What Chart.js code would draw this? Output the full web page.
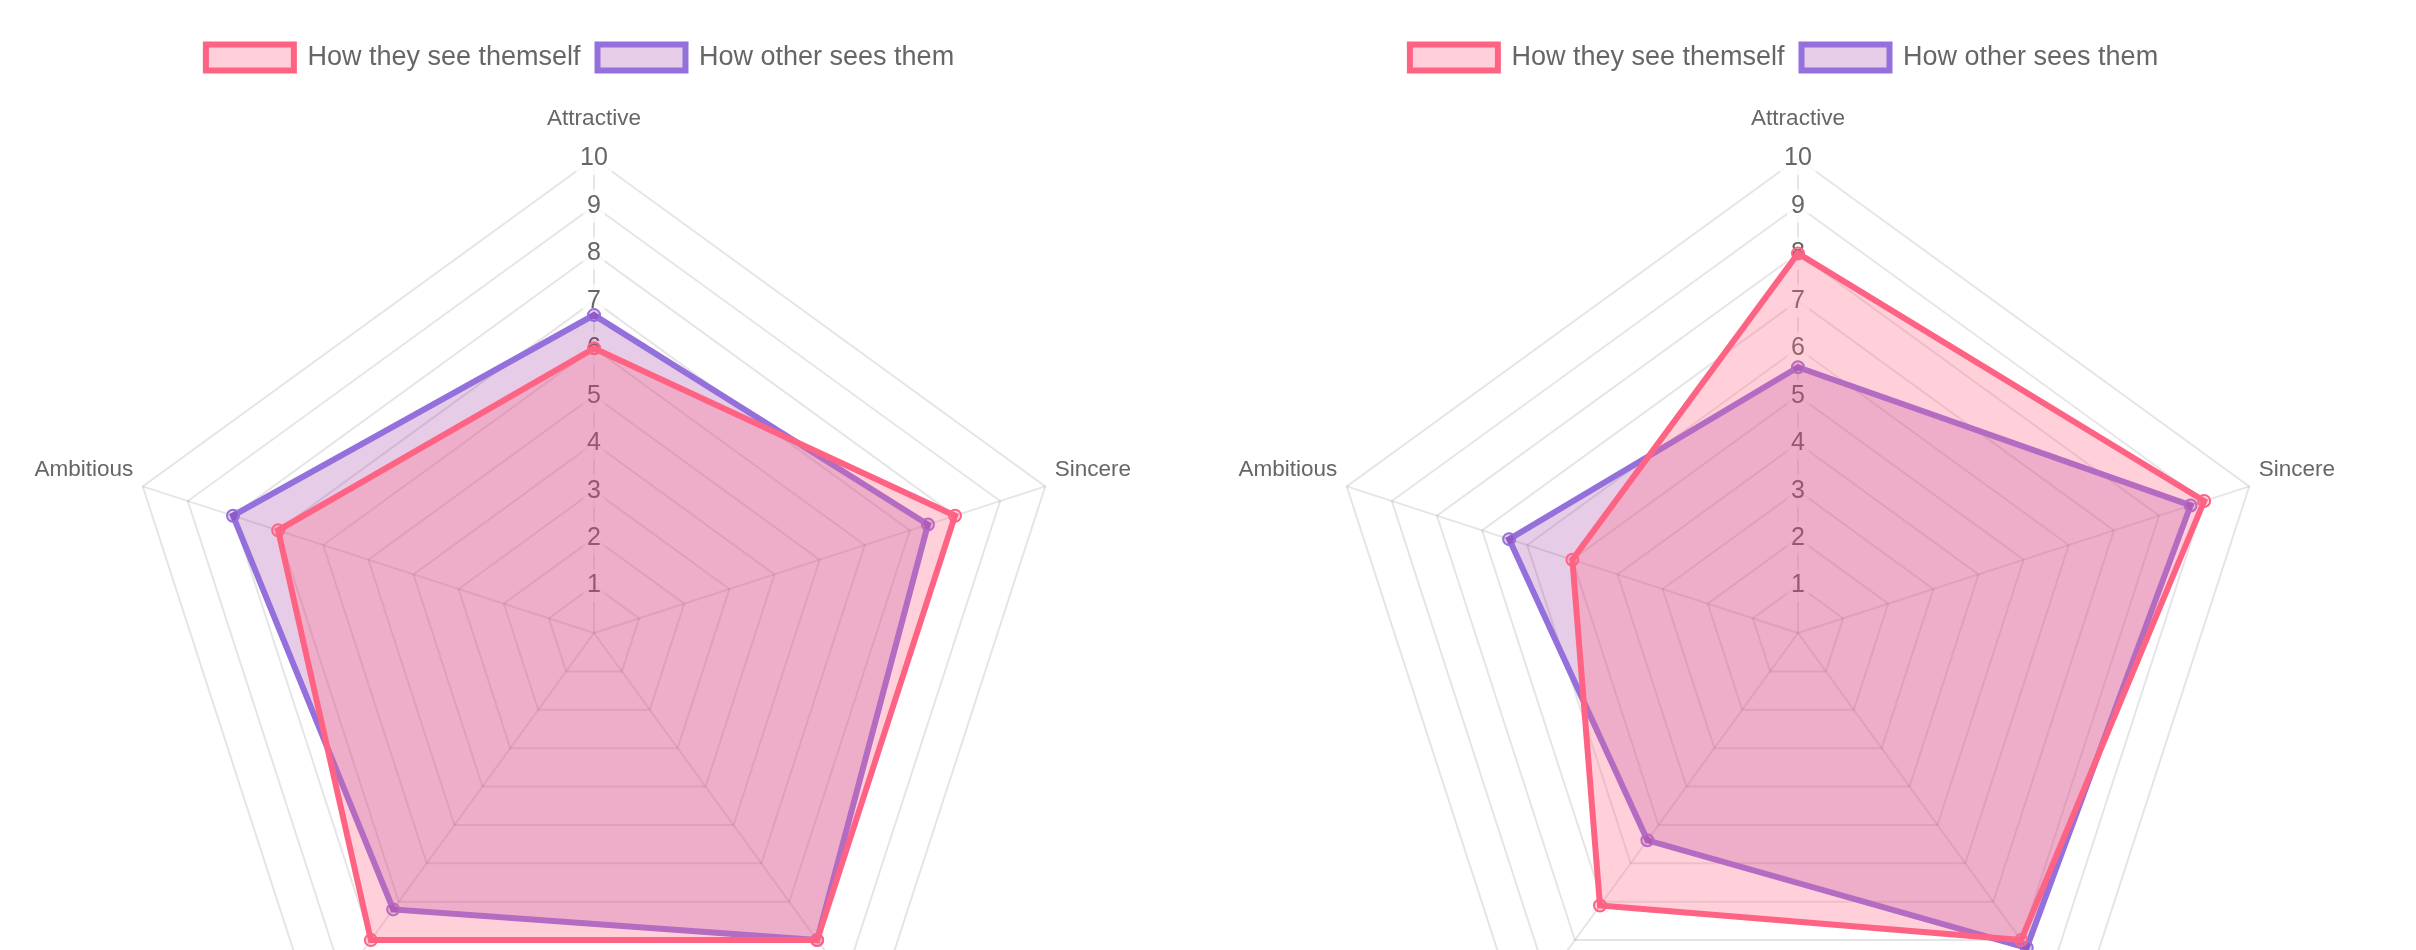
<!DOCTYPE html>
<html>
<head>
<meta charset="utf-8">
<script src="https://cdn.jsdelivr.net/npm/chart.js@4.4.1/dist/chart.umd.min.js"></script>
<style>
  html, body { margin: 0; padding: 0; background: #fff; overflow: hidden; }
  .box { position: absolute; top: 0; width: 1160px; height: 1160px; }
  #b1 { left: 0; }
  #b2 { left: 1204px; }
</style>
</head>
<body>
<div class="box" id="b1"><canvas id="c1"></canvas></div>
<div class="box" id="b2"><canvas id="c2"></canvas></div>
<script>
const categories = ["Attractive", "Sincere", "Intelligent", "Fun", "Ambitious"];
const seriesNames = ["How they see themself", "How other sees them"];
const chart1Self = [6, 8, 8, 8, 7];
const chart1Others = [6.7, 7.4, 8, 7.2, 8];
const chart2Self = [8, 9, 8, 7.1, 5];
const chart2Others = [5.6, 8.7, 8.2, 5.4, 6.4];
const scaleMin = 0;
const scaleMax = 10;

const FONT = "'Helvetica Neue', Helvetica, Arial, 'Liberation Sans', sans-serif";
Chart.defaults.font.family = FONT;
Chart.defaults.color = '#666';

const pink = 'rgb(255, 99, 132)';
const pinkFill = 'rgba(255, 99, 132, 0.3)';
const purple = 'rgb(147, 112, 219)';
const purpleFill = 'rgba(128, 0, 128, 0.2)';

// extra space between the legend and the radar, and a small horizontal nudge of the legend
const legendTweak = {
  id: 'legendTweak',
  beforeInit(chart) {
    const legend = chart.legend;
    if (!legend) return;
    const origFit = legend.fit;
    legend.fit = function () {
      origFit.call(this);
      this.height += 6;
    };
    const origDraw = legend.draw;
    legend.draw = function (area) {
      this.ctx.save();
      this.ctx.translate(-4, 0);
      origDraw.call(this, area);
      this.ctx.restore();
    };
  }
};

function makeChart(id, selfVals, otherVals) {
  return new Chart(document.getElementById(id), {
    type: 'radar',
    plugins: [legendTweak],
    data: {
      labels: categories,
      datasets: [
        {
          label: seriesNames[0],
          data: selfVals,
          borderColor: pink,
          backgroundColor: pinkFill,
          pointBackgroundColor: pinkFill,
          pointBorderColor: pink,
          borderWidth: 6,
          pointRadius: 6,
          pointBorderWidth: 2
        },
        {
          label: seriesNames[1],
          data: otherVals,
          borderColor: purple,
          backgroundColor: purpleFill,
          pointBackgroundColor: purpleFill,
          pointBorderColor: purple,
          borderWidth: 6,
          pointRadius: 6,
          pointBorderWidth: 2
        }
      ]
    },
    options: {
      responsive: true,
      maintainAspectRatio: false,
      animation: false,
      layout: { padding: { top: 27, bottom: 16, left: 8 } },
      plugins: {
        legend: {
          labels: {
            font: { size: 27 },
            boxWidth: 88,
            boxHeight: 26,
            padding: 17
          }
        },
        tooltip: { enabled: false }
      },
      scales: {
        r: {
          min: scaleMin,
          max: scaleMax,
          ticks: {
            stepSize: 1,
            font: { size: 25 },
            backdropPadding: 4,
            color: '#666'
          },
          pointLabels: {
            font: { size: 22.5 },
            padding: (ctx) => (ctx.index === 0 ? 10 : -6.5),
            color: '#666'
          },
          grid: { lineWidth: 2, color: 'rgba(0,0,0,0.1)' },
          angleLines: { lineWidth: 2, color: 'rgba(0,0,0,0.1)' }
        }
      }
    }
  });
}

makeChart('c1', chart1Self, chart1Others);
makeChart('c2', chart2Self, chart2Others);
</script>
</body>
</html>
